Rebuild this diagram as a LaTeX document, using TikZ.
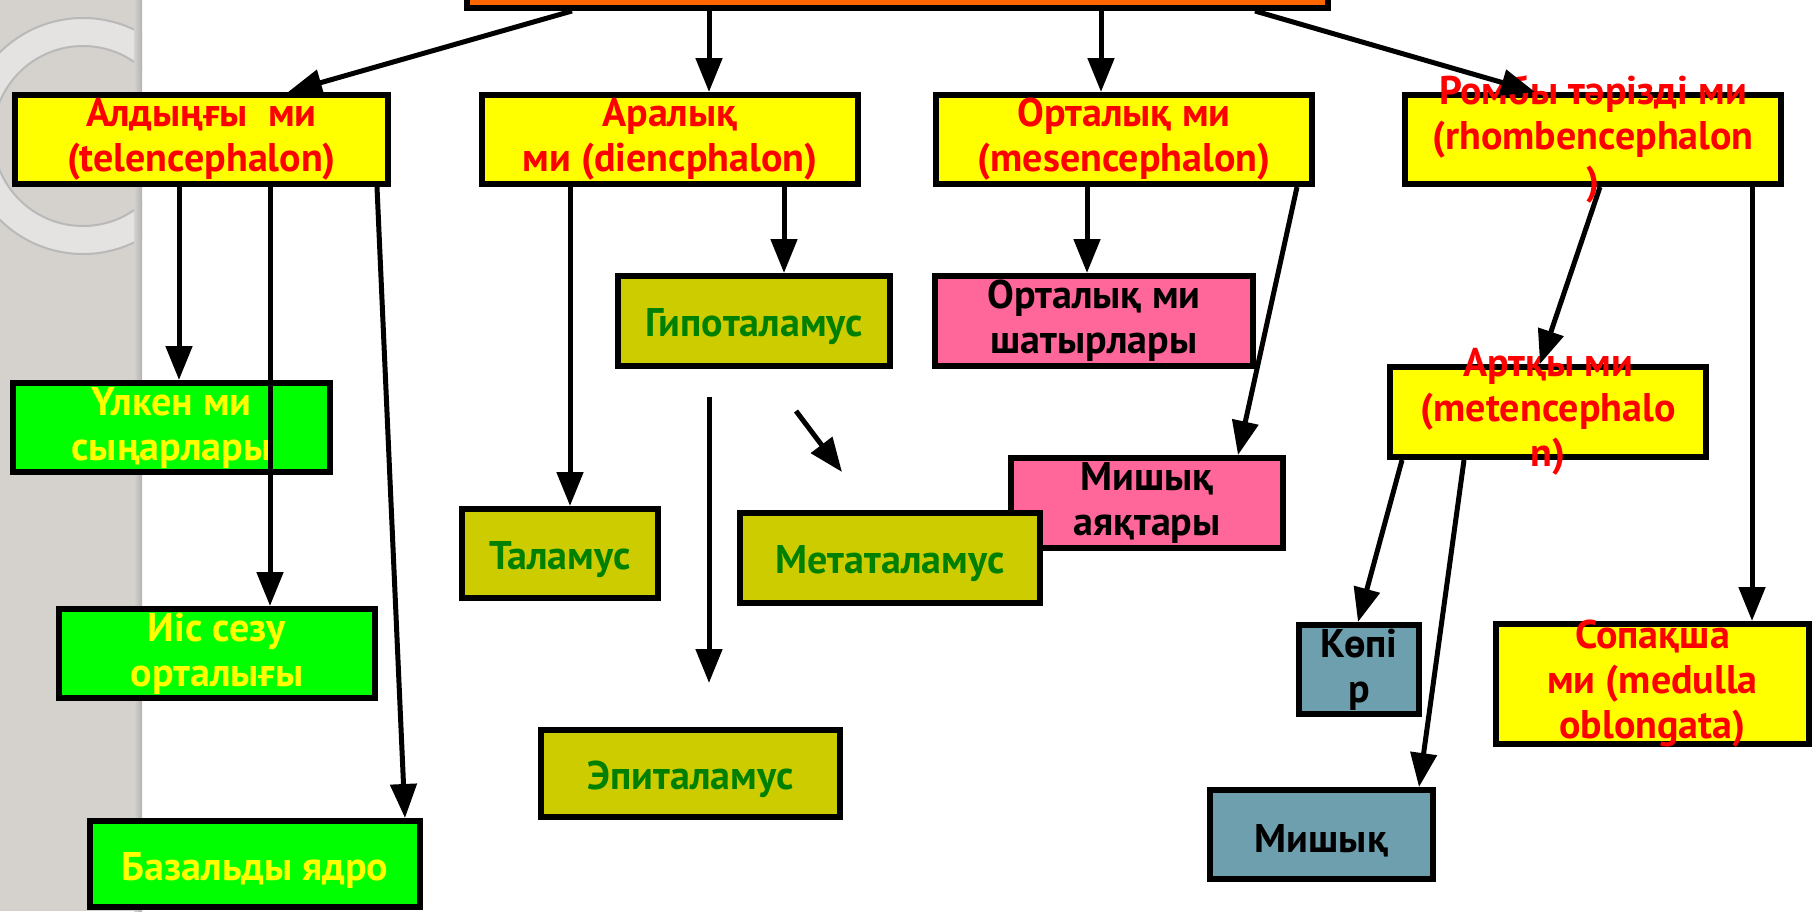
\documentclass[tikz,border=0pt]{standalone}
\usepackage{fontspec}
\setmainfont{PT Sans}
\usetikzlibrary{arrows.meta}

\definecolor{lobeyellow}{HTML}{FFFF00}
\definecolor{lobered}{HTML}{FF0000}
\definecolor{leafgreen}{HTML}{00FF00}
\definecolor{leafolive}{HTML}{CCCC00}
\definecolor{textgreen}{HTML}{008000}
\definecolor{leafpink}{HTML}{FF6699}
\definecolor{leafslate}{HTML}{6E9FAE}
\definecolor{rootorange}{HTML}{FF6600}
\definecolor{stripgray}{HTML}{D5D2CD}
\definecolor{ringgray}{HTML}{E4E3E1}

\tikzset{
  bigtext/.style = {align=center, font=\fontsize{40}{45}\selectfont\bfseries,
                    execute at begin node=\rule{0pt}{40pt}},
  part/.style = {draw, line width=6pt, inner sep=0, bigtext},
  lobe/.style = {part, fill=lobeyellow, text=lobered},
  lobetext/.style = {bigtext, text=lobered},
  greenpart/.style = {part, fill=leafgreen, text=lobeyellow},
  olivepart/.style = {part, fill=leafolive, text=textgreen},
  pinkpart/.style = {part, fill=leafpink, text=black},
  slatepart/.style = {part, fill=leafslate, text=black},
  arr/.style = {line width=5pt, -{Triangle[length=34pt, width=26pt]}},
}

\begin{document}
\begin{tikzpicture}[x=1pt, y=-1pt]
  \useasboundingbox (0,0) rectangle (1814,911);

  % slide strip on the left
  \fill[stripgray] (0,0) rectangle (142,911);
  \begin{scope}
    \clip (0,0) rectangle (142,911);
    \fill[ringgray, even odd rule] (83,136) circle[radius=118pt] (83,136) circle[radius=90pt];
    \draw[gray!55, line width=2pt] (83,136) circle[radius=118pt];
    \draw[gray!55, line width=2pt] (83,136) circle[radius=90pt];
  \end{scope}
  \shade[left color=stripgray, right color=gray!60] (134,0) rectangle (142,911);

  % top of the tree (cut by the page)
  \node (root) [part, fill=rootorange, minimum width=861pt, minimum height=70pt] at (897.5,-27) {};

  % main parts
  \node (telen) [lobe, minimum width=373pt, minimum height=89pt] at (201.5,139.5) {Алдыңғы\ \ ми\\(telencephalon)};
  \node (dien)  [lobe, minimum width=376pt, minimum height=89pt] at (670,139.5) {Аралық\\ми (diencphalon)};
  \node (mesen) [lobe, minimum width=376pt, minimum height=89pt] at (1124,139.5) {Орталық ми\\(mesencephalon)};
  \node (rhomb) [lobe, minimum width=376pt, minimum height=89pt,
                 label={[lobetext]center:{Ромбы тәрізді ми\\(rhombencephalon\\)}}] at (1593,139.5) {};

  % telencephalon
  \node (ulken) [greenpart, minimum width=317pt, minimum height=89pt] at (171.5,427.5) {Үлкен ми\\сыңарлары};
  \node (iis)   [greenpart, minimum width=316pt, minimum height=89pt] at (217,653.5) {Иіс сезу\\орталығы};
  \node (bazal) [greenpart, minimum width=330pt, minimum height=86pt] at (255,864) {Базальды ядро};

  % diencephalon
  \node (gipo)  [olivepart, minimum width=272pt, minimum height=90pt] at (754,321) {Гипоталамус};
  \node (talam) [olivepart, minimum width=196pt, minimum height=89pt] at (560,553.5) {Таламус};
  \node (epi)   [olivepart, minimum width=299pt, minimum height=87pt] at (690.5,773.5) {Эпиталамус};

  % mesencephalon
  \node (shatyr) [pinkpart, minimum width=318pt, minimum height=90pt] at (1094,321) {Орталық ми\\шатырлары};
  \node (ayak)   [pinkpart, minimum width=272pt, minimum height=90pt] at (1147,503) {Мишық\\аяқтары};
  \node (meta)   [olivepart, minimum width=300pt, minimum height=90pt] at (890,558) {Метаталамус};

  % rhombencephalon
  \node (artky)  [lobe, minimum width=316pt, minimum height=90pt,
                  label={[lobetext]center:{Артқы ми\\(metencephalo\\n)}}] at (1548,412) {};
  \node (sopak)  [lobe, minimum width=313pt, minimum height=120pt,
                  label={[lobetext]center:{Сопақша\\ми (medulla\\oblongata)}}] at (1652.5,684) {};
  \node (kopir)  [slatepart, minimum width=120pt, minimum height=89pt] at (1359,669.5) {Көпі\\р};
  \node (mishyk) [slatepart, minimum width=223pt, minimum height=89pt] at (1321.5,834.5) {Мишық};

  % arrows from parent to child
  \foreach \a/\sa/\b/\sb in {
    root/-325.5pt/telen/86.5pt,
    root/-188.5pt/dien/39pt,
    root/203.5pt/mesen/-23pt,
    root/357.5pt/rhomb/-58pt,
    telen/-22.5pt/ulken/7.5pt,
    telen/68.5pt/iis/53pt,
    telen/175.5pt/bazal/150pt,
    dien/-100pt/talam/10pt,
    dien/114pt/gipo/30pt,
    mesen/-37pt/shatyr/-7pt,
    mesen/173pt/ayak/91pt,
    rhomb/7pt/artky/-8pt,
    rhomb/159pt/sopak/99.5pt,
    artky/-146pt/kopir/-1pt,
    artky/-84pt/mishyk/97.5pt%
  }{
    \draw [arr] ([xshift=\sa]\a.south) -- ([xshift=\sb]\b.north);
  }

  % loose arrows under the hypothalamus
  \coordinate (epitop) at (709,397);
  \coordinate (epitip) at (709,683);
  \coordinate (metatop) at (796,411);
  \coordinate (metatip) at (842,472);
  \draw [arr] (epitop) -- (epitip);
  \draw [arr] (metatop) -- (metatip);
\end{tikzpicture}
\end{document}
